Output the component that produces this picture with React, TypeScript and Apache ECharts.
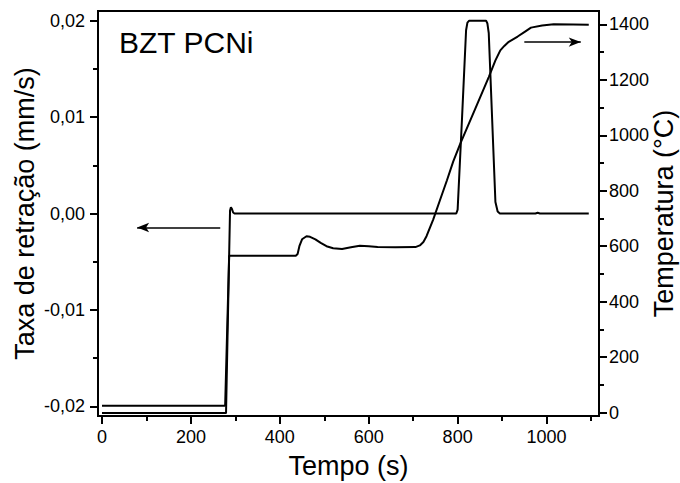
import React, { useEffect, useRef } from "react";
import * as echarts from "echarts";

// Shrinkage rate (left axis, mm/s) vs time (s)
const rateTime = [0, 279, 288, 290, 292, 295, 298, 400, 600, 797, 800, 810, 819, 822, 826, 864, 867, 870, 885, 890, 895, 975, 980, 985, 1095];
const rateValue = [-0.0207, -0.0207, 0.0003, 0.00065, 0.0005, 0.0001, 0, 0, 0, 0, 0.0004, 0.01, 0.019, 0.0198, 0.02, 0.02, 0.0197, 0.0187, 0.0012, 0.0002, 0, 0, 0.00008, 0, 0];

// Temperature (right axis, °C) vs time (s)
const tempTime = [0, 277, 286, 436, 440, 444, 450, 460, 468, 480, 492, 505, 520, 540, 560, 580, 600, 620, 660, 705, 715, 723, 730, 745, 760, 776, 790, 806, 840, 870, 885, 896, 905, 915, 935, 950, 965, 990, 1016, 1060, 1095];
const tempValue = [25, 25, 566, 566, 572, 600, 625, 636, 634, 625, 612, 600, 593, 590, 596, 602, 600, 597, 596, 597, 603, 615, 636, 696, 765, 838, 905, 970, 1097, 1210, 1270, 1306, 1322, 1337, 1356, 1372, 1388, 1396, 1400, 1399, 1398];

const xMajorTicks = [0, 200, 400, 600, 800, 1000];
const xMinorTicks = [100, 300, 500, 700, 900, 1100];
const rateMajorTicks = [-0.02, -0.01, 0, 0.01, 0.02];
const rateMinorTicks = [-0.015, -0.005, 0.005, 0.015];
const tempMajorTicks = [0, 200, 400, 600, 800, 1000, 1200, 1400];
const tempMinorTicks = [100, 300, 500, 700, 900, 1100, 1300];

const leftArrowTimes = [266, 79];
const leftArrowRate = -0.00145;
const rightArrowTimes = [950, 1077];
const rightArrowTemp = 1336;

const FONT = '"Liberation Sans", Arial, sans-serif';

export default function App() {
  const ref = useRef<HTMLDivElement>(null);
  useEffect(() => {
    document.body.style.margin = "0";
    if (!ref.current) return;
    const chart = echarts.init(ref.current, undefined, { renderer: "svg" });
    const black = "#000";
    const axisLine = { show: true, onZero: false, lineStyle: { color: black, width: 2 } };
    const hiddenLine = { show: false, onZero: false };
    const tickStyle = { color: black, width: 2 };
    const labelStyle = { color: black, fontSize: 18, fontFamily: FONT };
    const nameStyle = { color: black, fontSize: 27, fontFamily: FONT };
    const xRange = { min: -9, max: 1118 };
    const rateRange = { min: -0.021, max: 0.021 };
    const tempRange = { min: -12, max: 1448 };

    chart.setOption({
      animation: false,
      backgroundColor: "#fff",
      grid: {
        left: 98, right: 81, top: 11, bottom: 67,
        containLabel: false, outerBoundsMode: "none",
        show: true, borderColor: black, borderWidth: 2, backgroundColor: "transparent",
      },
      graphic: [
        { type: "text", left: 119, top: 27, style: { text: "BZT PCNi", font: `30px ${FONT}`, fill: black } },
      ],
      xAxis: [
        {
          type: "value", ...xRange, position: "bottom",
          axisLine,
          axisTick: { show: true, length: 8, lineStyle: tickStyle, customValues: xMajorTicks },
          axisLabel: { ...labelStyle, margin: 12, customValues: xMajorTicks, formatter: (v: number) => String(v) },
          splitLine: { show: false },
          name: "Tempo (s)", nameLocation: "middle", nameGap: 36, nameMoveOverlap: false, nameTextStyle: nameStyle,
        },
        {
          type: "value", ...xRange, position: "bottom",
          axisLine: hiddenLine,
          axisTick: { show: true, length: 5, lineStyle: tickStyle, customValues: xMinorTicks },
          axisLabel: { show: false },
          splitLine: { show: false },
        },
      ],
      yAxis: [
        {
          type: "value", ...rateRange, position: "left",
          axisLine,
          axisTick: { show: true, length: 8, lineStyle: tickStyle, customValues: rateMajorTicks },
          axisLabel: { ...labelStyle, margin: 13, customValues: rateMajorTicks, formatter: (v: number) => v.toFixed(2).replace(".", ",") },
          splitLine: { show: false },
          name: "Taxa de retração (mm/s)", nameLocation: "middle", nameGap: 60, nameMoveOverlap: false, nameTextStyle: nameStyle,
        },
        {
          type: "value", ...tempRange, position: "right",
          axisLine,
          axisTick: { show: true, length: 8, lineStyle: tickStyle, customValues: tempMajorTicks },
          axisLabel: { ...labelStyle, margin: 10, customValues: tempMajorTicks, formatter: (v: number) => String(v) },
          splitLine: { show: false },
          name: "Temperatura (°C)", nameLocation: "middle", nameGap: 51, nameMoveOverlap: false, nameTextStyle: nameStyle,
        },
        {
          type: "value", ...rateRange, position: "left",
          axisLine: hiddenLine,
          axisTick: { show: true, length: 5, lineStyle: tickStyle, customValues: rateMinorTicks },
          axisLabel: { show: false },
          splitLine: { show: false },
        },
        {
          type: "value", ...tempRange, position: "right",
          axisLine: hiddenLine,
          axisTick: { show: true, length: 5, lineStyle: tickStyle, customValues: tempMinorTicks },
          axisLabel: { show: false },
          splitLine: { show: false },
        },
      ],
      series: [
        {
          type: "line", xAxisIndex: 0, yAxisIndex: 0,
          data: rateTime.map((t, i) => [t, rateValue[i]]),
          symbol: "none", showSymbol: false,
          lineStyle: { color: black, width: 2 },
          emphasis: { disabled: true },
          markLine: {
            silent: true, symbol: ["none", "arrow"], symbolSize: [7, 12],
            label: { show: false },
            lineStyle: { color: black, width: 1.5, type: "solid" },
            emphasis: { disabled: true },
            data: [[{ coord: [leftArrowTimes[0], leftArrowRate] }, { coord: [leftArrowTimes[1], leftArrowRate] }]],
          },
        },
        {
          type: "line", xAxisIndex: 0, yAxisIndex: 1,
          data: tempTime.map((t, i) => [t, tempValue[i]]),
          symbol: "none", showSymbol: false,
          lineStyle: { color: black, width: 2 },
          emphasis: { disabled: true },
          markLine: {
            silent: true, symbol: ["none", "arrow"], symbolSize: [7, 12],
            label: { show: false },
            lineStyle: { color: black, width: 1.5, type: "solid" },
            emphasis: { disabled: true },
            data: [[{ coord: [rightArrowTimes[0], rightArrowTemp] }, { coord: [rightArrowTimes[1], rightArrowTemp] }]],
          },
        },
      ],
    });
    return () => chart.dispose();
  }, []);
  return <div ref={ref} style={{ width: 680, height: 483 }} />;
}
